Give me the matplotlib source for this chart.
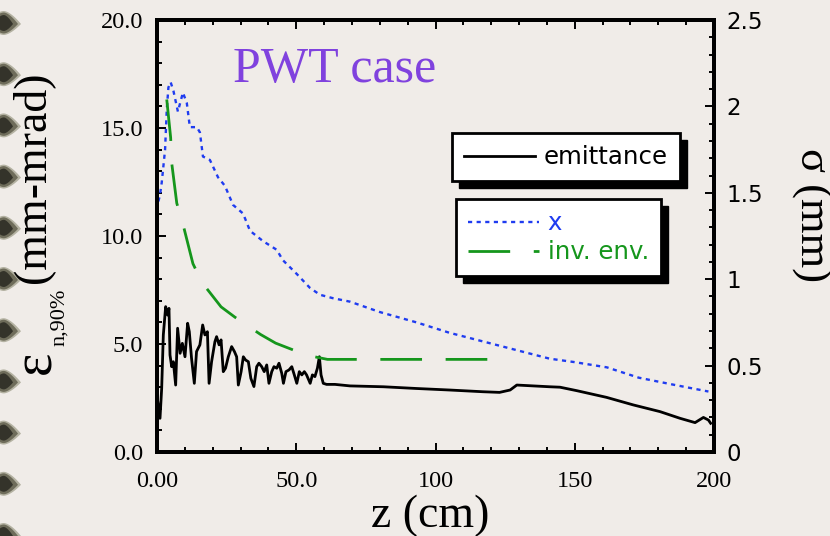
import numpy as np
import matplotlib
matplotlib.use("Agg")
import matplotlib.pyplot as plt
from matplotlib.patches import Rectangle, Polygon
from matplotlib.transforms import IdentityTransform
from matplotlib.font_manager import FontProperties
from matplotlib.ticker import MultipleLocator, FixedLocator, FixedFormatter, FormatStrFormatter

# ---------------- data ----------------
z_emit = [0.3, 1.08, 1.68, 2.27, 3.11, 3.83, 4.3, 4.67, 5.27, 5.87, 6.7, 7.4, 8.3, 9.1, 10.05,
          11.0, 11.6, 12.4, 13.4, 14.2, 15.4, 16.4, 17.2, 18.1, 18.7, 19.6, 20.8, 21.4, 22.3,
          23.0, 23.8, 24.6, 25.6, 26.8, 27.8, 28.6, 29.2, 30.2, 31.0, 31.8, 32.8, 33.7, 34.8,
          35.8, 36.6, 37.6, 38.5, 39.4, 40.2, 41.2, 42.0, 43.0, 43.8, 44.8, 45.4, 46.3, 47.4,
          48.4, 49.3, 50.2, 51.1, 52.0, 52.9, 53.7, 55.0, 55.8, 56.7, 57.6, 58.3, 58.9, 59.7,
          60.9, 63.9, 69.3, 81.3, 93.2, 105, 117, 123, 126.8, 129.2, 141, 144.7, 150.7, 161.4,
          171, 180.6, 187.8, 193.2, 196.2, 198, 198.8]
emittance = [2.3, 1.56, 2.95, 5.42, 6.73, 6.34, 6.65, 4.49, 3.95, 4.18, 3.1, 5.73, 4.57, 5.03,
             4.41, 5.96, 5.57, 4.34, 3.18, 4.65, 4.96, 5.88, 5.42, 5.57, 3.18, 4.18, 5.11, 5.34,
             4.96, 5.19, 3.72, 3.88, 4.41, 4.88, 4.65, 4.41, 3.1, 3.72, 4.41, 4.26, 4.18, 3.41,
             3.03, 3.95, 4.11, 3.95, 3.72, 4.03, 3.18, 3.72, 3.95, 3.88, 4.11, 3.64, 3.18, 3.72,
             3.8, 3.95, 3.57, 3.18, 3.72, 3.57, 3.72, 3.57, 3.18, 3.57, 3.49, 3.88, 4.41, 3.57,
             3.18, 3.13, 3.13, 3.06, 3.02, 2.94, 2.87, 2.79, 2.76, 2.87, 3.1, 3.02, 3.0, 2.84,
             2.53, 2.18, 1.87, 1.56, 1.36, 1.6, 1.48, 1.33]

z_x = [0.5, 1.1, 1.7, 2.9, 3.5, 4.1, 4.9, 5.9, 7.5, 9.3, 10.7, 11.8, 14.3, 15.4, 16.5, 19.0,
       21.9, 24.4, 27.3, 30.9, 33.4, 38.1, 43.0, 45.2, 50.2, 54.9, 58.5, 63.2, 69.3, 80, 93.2,
       105, 117, 129, 141, 150, 161.5, 173, 185.3, 198]
sigma_x = [1.45, 1.49, 1.56, 1.75, 1.98, 2.11, 2.14, 2.09, 1.97, 2.08, 2.02, 1.88, 1.88, 1.85,
           1.71, 1.69, 1.59, 1.54, 1.43, 1.38, 1.28, 1.22, 1.17, 1.11, 1.03, 0.95, 0.91, 0.89,
           0.87, 0.81, 0.75, 0.69, 0.64, 0.59, 0.54, 0.52, 0.49, 0.43, 0.39, 0.35]

z_env = [3.5, 4.9, 5.3, 7.1, 9.3, 12.9, 16.2, 23.0, 28.0, 37.2, 42.6, 53.8, 61.2, 123.4]
sigma_env = [2.04, 1.82, 1.67, 1.44, 1.32, 1.09, 0.98, 0.84, 0.78, 0.68, 0.63, 0.56, 0.536, 0.536]

x_ticks = [0, 50, 100, 150, 200]
x_ticklabels = ["0.00", "50.0", "100", "150", "200"]
title_text = "PWT case"
legend1_labels = ["emittance"]
legend2_labels = ["x", "inv. env."]

# ---------------- style ----------------
BG = "#F0ECE8"
BLUE = "#1f3cf0"
GREEN = "#15961c"
PURPLE = "#8042DE"

plt.rcParams["font.family"] = ["Liberation Serif", "DejaVu Serif"]
plt.rcParams["lines.scale_dashes"] = False

fig = plt.figure(figsize=(8.3, 5.36), dpi=100, facecolor=BG)
ax = fig.add_axes([157 / 830, 1 - 452 / 536, 557 / 830, 432 / 536])
ax.set_facecolor("none")
ax2 = ax.twinx()
ax2.set_facecolor("none")

l_em, = ax.plot(z_emit, emittance, color="black", lw=2.0, zorder=3)
l_x, = ax2.plot(z_x, sigma_x, color=BLUE, lw=1.7, dashes=(3.0, 3.2))
l_env, = ax2.plot(z_env, sigma_env, color=GREEN, lw=2.0, dashes=(30, 17))

ax.set_xlim(0, 200)
ax.set_ylim(0, 20)
ax2.set_ylim(0, 2.5)

ax.xaxis.set_major_locator(FixedLocator(x_ticks))
ax.xaxis.set_major_formatter(FixedFormatter(x_ticklabels))
ax.xaxis.set_minor_locator(MultipleLocator(10))
ax.yaxis.set_major_locator(MultipleLocator(5))
ax.yaxis.set_major_formatter(FormatStrFormatter("%.1f"))
ax.yaxis.set_minor_locator(MultipleLocator(1))
ax2.yaxis.set_major_locator(MultipleLocator(0.5))
ax2.yaxis.set_major_formatter(FormatStrFormatter("%g"))
ax2.yaxis.set_minor_locator(MultipleLocator(0.1))

for a in (ax, ax2):
    for s in a.spines.values():
        s.set_linewidth(2.8)

ax.tick_params(axis="both", which="both", direction="in", top=True, right=False,
               width=1.4, color="black")
ax.tick_params(which="major", length=6.5)
ax.tick_params(which="minor", length=3.6)
ax.tick_params(axis="x", which="major", labelsize=17.5, pad=14)
ax.tick_params(axis="y", which="major", labelsize=17.5, pad=10)
ax2.tick_params(axis="y", which="both", direction="in", width=1.4)
ax2.tick_params(axis="y", which="major", length=6.5, pad=9, labelsize=16.5)
ax2.tick_params(axis="y", which="minor", length=3.6)
for lab in ax2.get_yticklabels():
    lab.set_fontfamily("DejaVu Sans")

# title
ax.text((233 - 157) / 557, (452 - 82) / 432, title_text, transform=ax.transAxes,
        fontsize=36, color=PURPLE, va="baseline", ha="left")

# axis labels
fig.text(430 / 830, 1 - 527 / 536, "z (cm)", fontsize=33, ha="center", va="baseline")
fig.text(33 / 830, 1 - 177 / 536, "(mm-mrad)", fontsize=33, rotation=90, ha="center", va="center")
fig.text(36 / 830, 1 - 362 / 536, "ε", fontsize=40, rotation=90, ha="center", va="center")
fig.text(60 / 830, 1 - 317 / 536, "n,90%", fontsize=16, rotation=90, ha="center", va="center")
fig.text(811 / 830, 1 - 215 / 536, "σ (mm)", fontsize=32, rotation=270, ha="center", va="center")

# legends
lp = FontProperties(family="DejaVu Sans", size=17.6)
leg1 = ax2.legend([l_em], legend1_labels, loc="upper left",
                  bbox_to_anchor=(452 / 830, 1 - 133 / 536), bbox_transform=fig.transFigure,
                  borderaxespad=0, fancybox=False, framealpha=1, facecolor="white",
                  edgecolor="black", prop=lp, handlelength=2.9, handletextpad=0.35,
                  borderpad=0.5, labelcolor="linecolor")
leg1.get_frame().set_linewidth(2)
ax2.add_artist(leg1)
leg2 = ax2.legend([l_x, l_env], legend2_labels, loc="upper left",
                  bbox_to_anchor=(456 / 830, 1 - 199 / 536), bbox_transform=fig.transFigure,
                  borderaxespad=0, fancybox=False, framealpha=1, facecolor="white",
                  edgecolor="black", prop=lp, handlelength=2.9, handletextpad=0.35,
                  borderpad=0.5, labelspacing=0.2, labelcolor="linecolor")
leg2.get_frame().set_linewidth(2)

# decorative binding marks on the left edge
t = np.linspace(np.pi / 2, 3 * np.pi / 2, 30)
for k in range(11):
    cy = 536 - (23 + 51.2 * k)
    for (rx, ry, tip, col) in [(11, 12, 21, "#b4b2a2"), (9.5, 10.5, 18, "#6e6c5a"),
                               (7, 8, 13, "#34332a")]:
        left = np.column_stack([4 + rx * np.cos(t), cy + ry * np.sin(t)])
        s = np.linspace(0, 1, 12)
        lower = np.column_stack([4 + (tip - 4) * s, cy - ry + (ry - 1) * s ** 1.6])
        upper = np.column_stack([tip - (tip - 4) * s, cy - 1 + (ry + 1) * (1 - (1 - s) ** 1.6)])
        pts = np.vstack([left, lower, upper])
        fig.patches.append(Polygon(pts, closed=True, transform=IdentityTransform(),
                                   facecolor=col, edgecolor="none", figure=fig))

# legend shadows
fig.canvas.draw()
r = fig.canvas.get_renderer()
for lg in (leg1, leg2):
    bb = lg.get_frame().get_window_extent(r)
    ax2.add_patch(Rectangle((bb.x0 + 7, bb.y0 - 7), bb.width, bb.height,
                            transform=IdentityTransform(), facecolor="black",
                            edgecolor="black", zorder=4.5))

fig.savefig("out.png", dpi=100, facecolor=BG)
